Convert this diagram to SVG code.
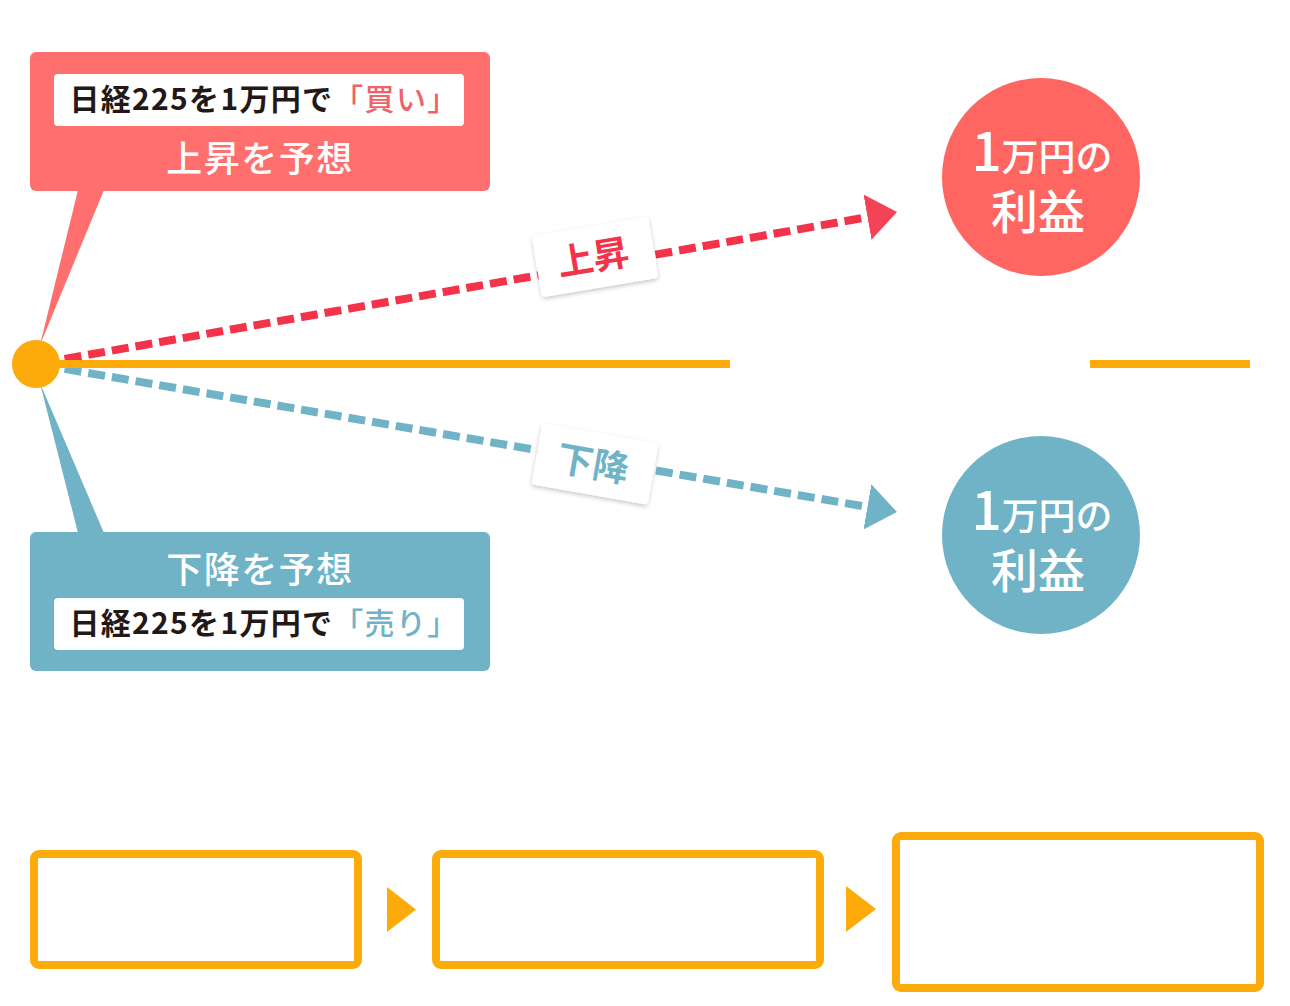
<svg xmlns="http://www.w3.org/2000/svg" width="1290" height="1006" viewBox="0 0 1290 1006">
<style>
.jp{font-family:"Noto Sans CJK JP","Noto Sans",sans-serif}
.dark{fill:#231815}
.wt{fill:#ffffff}
.step{fill:none;stroke:#FCAB0B;stroke-width:8}
.tri{fill:#FCAB0B}
</style>
<defs>
<marker id="arR" markerUnits="userSpaceOnUse" markerWidth="32" markerHeight="48" refX="0" refY="24" orient="auto" viewBox="0 0 32 48">
<path d="M0,1 L30,24 L0,47 z" fill="#F33349" opacity="0.92"/>
</marker>
<marker id="arB" markerUnits="userSpaceOnUse" markerWidth="32" markerHeight="48" refX="0" refY="24" orient="auto" viewBox="0 0 32 48">
<path d="M0,1 L30,24 L0,47 z" fill="#70B3C7"/>
</marker>
<filter id="sh" x="-20%" y="-30%" width="140%" height="160%">
<feDropShadow dx="0" dy="2" stdDeviation="2" flood-color="#000" flood-opacity="0.22"/>
</filter>
</defs>

<g id="connectors">
<line x1="36" y1="364" x2="867.5" y2="217.2" stroke="#F33349" stroke-width="8" stroke-dasharray="17 7" stroke-dashoffset="-5" marker-end="url(#arR)"/>
<line x1="36" y1="364" x2="867.4" y2="506.9" stroke="#70B3C7" stroke-width="8" stroke-dasharray="17 7" stroke-dashoffset="-5" marker-end="url(#arB)"/>
<line x1="36" y1="364" x2="730" y2="364" stroke="#FCAB0B" stroke-width="8"/>
<line x1="1090" y1="364" x2="1250" y2="364" stroke="#FCAB0B" stroke-width="8"/>
<polygon class="tri" points="387,887 387,932 416,909.5"/>
<polygon class="tri" points="846,886 846,932 876,909"/>
</g>

<g id="buy-callout">
<polygon points="78,190 104,190 40,345" fill="#FF6F6E"/>
<rect x="30" y="52" width="460" height="139" rx="6" fill="#FF6F6E"/>
<rect x="54" y="74" width="410" height="52" rx="4" fill="#ffffff"/>
<text class="jp" x="264" y="110" font-size="30" font-weight="700" letter-spacing="1.3" text-anchor="middle"><tspan class="dark">日経225を1万円で</tspan><tspan fill="#F0616A" font-weight="500">「買い」</tspan></text>
<text class="jp wt" x="260" y="172" font-size="36" font-weight="500" letter-spacing="1.5" text-anchor="middle">上昇を予想</text>
</g>

<g id="sell-callout">
<polygon points="78,533 104,533 40,383" fill="#70B3C7"/>
<rect x="30" y="532" width="460" height="139" rx="6" fill="#70B3C7"/>
<rect x="54" y="598" width="410" height="52" rx="4" fill="#ffffff"/>
<text class="jp wt" x="260" y="583" font-size="36" font-weight="500" letter-spacing="1.5" text-anchor="middle">下降を予想</text>
<text class="jp" x="264" y="634" font-size="30" font-weight="700" letter-spacing="1.3" text-anchor="middle"><tspan class="dark">日経225を1万円で</tspan><tspan fill="#70B3C7" font-weight="500">「売り」</tspan></text>
</g>

<g id="origin">
<circle cx="36" cy="364" r="24" fill="#FCAB0B"/>
</g>

<g id="label-up" transform="translate(595,257) rotate(-9.5)">
<rect x="-59" y="-31" width="118" height="62" rx="4" fill="#ffffff" filter="url(#sh)"/>
<text class="jp" x="-2" y="13" font-size="36" font-weight="700" fill="#F33349" text-anchor="middle">上昇</text>
</g>

<g id="label-down" transform="translate(595,464) rotate(10)">
<rect x="-59" y="-31" width="118" height="62" rx="4" fill="#ffffff" filter="url(#sh)"/>
<text class="jp" x="-2" y="13" font-size="36" font-weight="700" fill="#70B3C7" text-anchor="middle">下降</text>
</g>

<g id="profit-up">
<circle cx="1041" cy="177" r="99" fill="#FF6662"/>
<text class="jp wt" x="1042" y="171" font-weight="500" text-anchor="middle"><tspan font-size="53">1</tspan><tspan font-size="37">万円の</tspan></text>
<text class="jp wt" x="1038" y="229" font-size="47" font-weight="500" text-anchor="middle">利益</text>
</g>

<g id="profit-down">
<circle cx="1041" cy="535" r="99" fill="#70B3C7"/>
<text class="jp wt" x="1042" y="530" font-weight="500" text-anchor="middle"><tspan font-size="53">1</tspan><tspan font-size="37">万円の</tspan></text>
<text class="jp wt" x="1038" y="588" font-size="47" font-weight="500" text-anchor="middle">利益</text>
</g>

<g id="step1"><rect class="step" x="34" y="854" width="324" height="111" rx="5"/></g>
<g id="step2"><rect class="step" x="436" y="854" width="384" height="111" rx="5"/></g>
<g id="step3"><rect class="step" x="896" y="836" width="364" height="152" rx="5"/></g>
</svg>
